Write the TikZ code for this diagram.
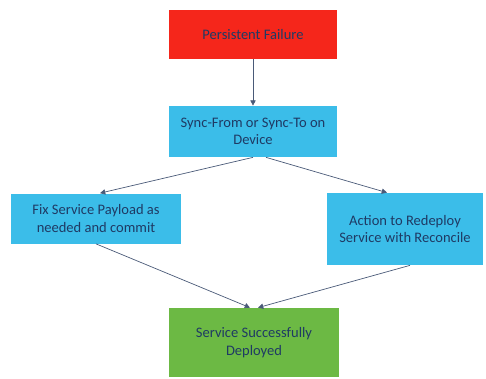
\documentclass[tikz,border=0pt]{standalone}
\usepackage{fontspec}
\setmainfont{Carlito}
\usetikzlibrary{arrows.meta,positioning}
\definecolor{failred}{HTML}{F5261B}
\definecolor{stepblue}{HTML}{3BBDE9}
\definecolor{okgreen}{HTML}{6CB944}
\definecolor{textnavy}{HTML}{1F3A64}
\definecolor{linegray}{HTML}{4A5A78}

\begin{document}
\begin{tikzpicture}[-{Triangle[width=4.5pt,length=4.5pt]}, color=linegray, line width=0.6pt]
   \useasboundingbox (0,0) rectangle (14.58,-11.34);
   \tikzstyle{box}=[rectangle, draw=none, text=textnavy, align=center, font=\fontsize{12.4}{15}\selectfont, inner sep=0pt]
   \node[box,fill=failred,minimum width=5.04cm,minimum height=1.47cm] (fail) at (7.59,-1.035) {Persistent Failure};
   \node[box,fill=stepblue,minimum width=5.04cm,minimum height=1.53cm] (sync) at (7.59,-3.945) {Sync-From or Sync-To on\\Device};
   \node[box,fill=stepblue,minimum width=5.1cm,minimum height=1.5cm] (fix) at (2.88,-6.555) {Fix Service Payload as\\needed and commit};
   \node[box,fill=stepblue,minimum width=4.68cm,minimum height=2.16cm] (redeploy) at (12.15,-6.87) {Action to Redeploy\\Service with Reconcile};
   \node[box,fill=okgreen,minimum width=5.1cm,minimum height=2.07cm] (done) at (7.62,-10.275) {Service Successfully\\Deployed};
   % connectors
   \draw (fail) -- (sync);
   \draw (sync.south) -- ([xshift=0.12cm]fix.north);
   \draw ([xshift=0.39cm]sync.south) -- ([xshift=-0.54cm]redeploy.north);
   \draw (fix.south) -- ([xshift=-0.12cm]done.north);
   \draw ([xshift=0.15cm]redeploy.south) -- ([xshift=0.12cm]done.north);
\end{tikzpicture}
\end{document}
